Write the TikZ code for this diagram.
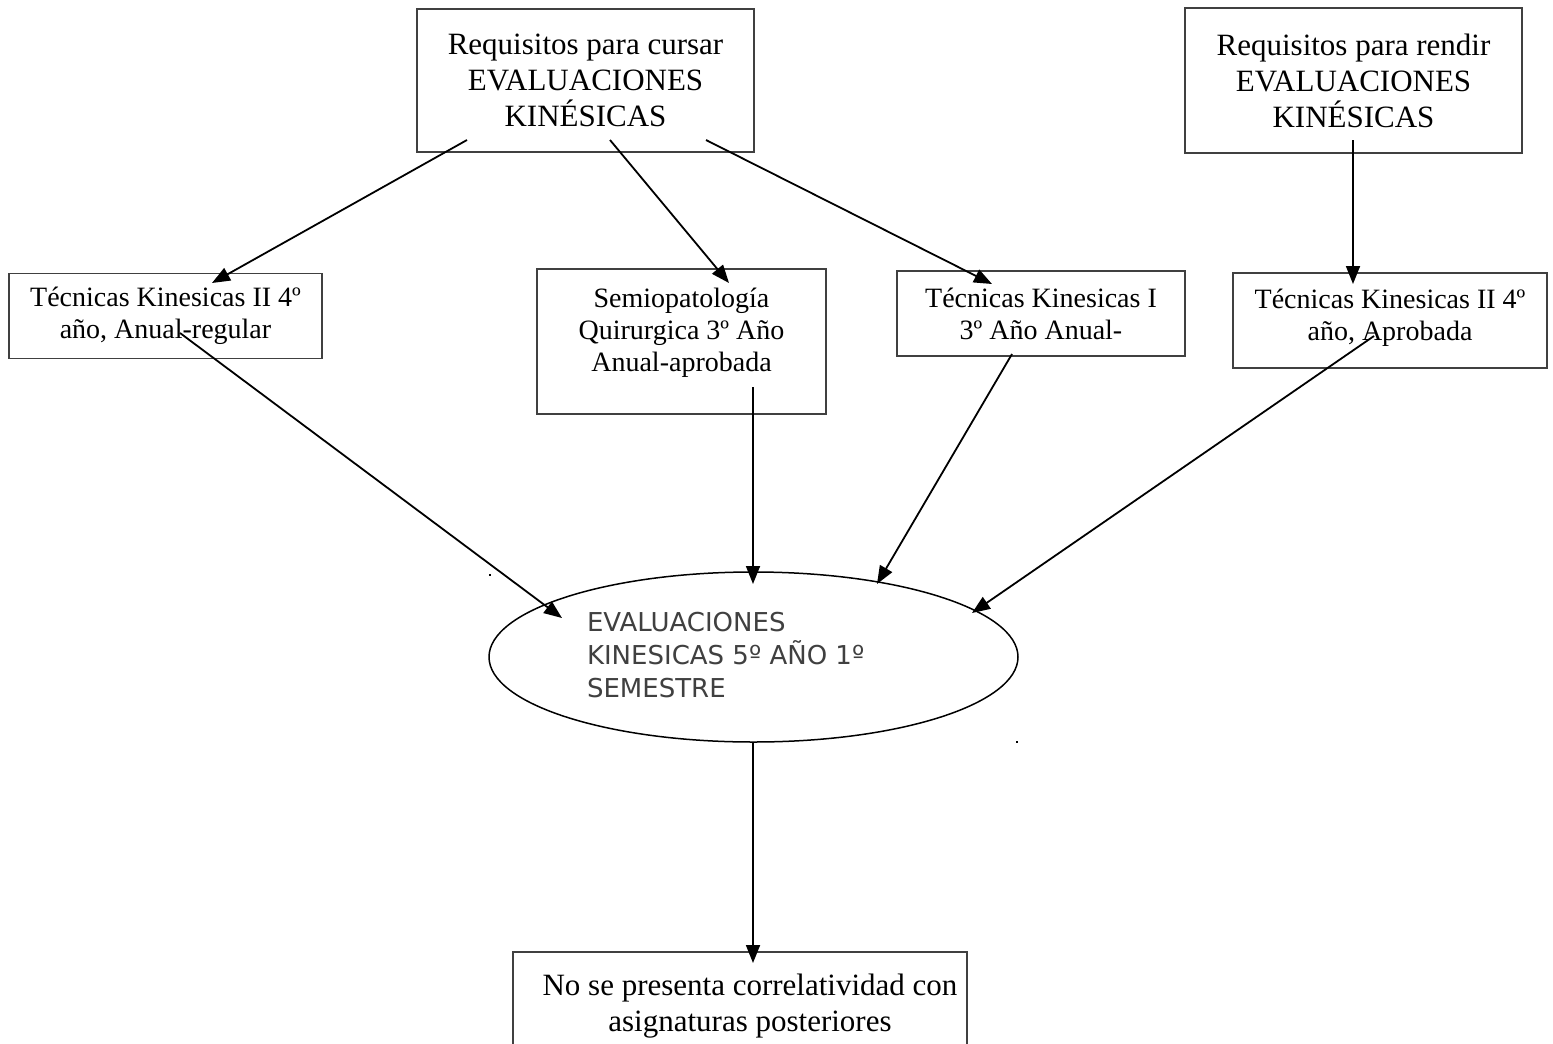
\documentclass[tikz,border=0pt]{standalone}
\usepackage{fontspec}
\setmainfont{Liberation Serif}
\newfontfamily\dejavusans{DejaVu Sans}
\usetikzlibrary{arrows.meta,shapes.geometric}
\definecolor{boxline}{HTML}{404040}
\definecolor{elltext}{HTML}{404040}
\begin{document}
\begin{tikzpicture}[x=1pt,y=-1pt,
  boxnode/.style={draw=boxline, line width=1.5pt, rectangle, inner sep=0pt, align=center},
  bigtext/.style={font=\fontsize{31}{36}\selectfont},
  smalltext/.style={font=\fontsize{28}{32}\selectfont},
  arr/.style={draw=black, line width=1.8pt, -{Triangle[length=18pt,width=14pt]}},
  dotmark/.style={fill=black}
]
\useasboundingbox (0,0) rectangle (1553,1044);
\fill[white] (0,0) rectangle (1553,1044);

% top boxes
\node[boxnode,bigtext,minimum width=337,minimum height=143] (cursar) at (585.5,80.5)
  {Requisitos para cursar\\EVALUACIONES\\KINÉSICAS};
\node[boxnode,bigtext,minimum width=337,minimum height=145] (rendir) at (1353.5,80.5)
  {Requisitos para rendir\\EVALUACIONES\\KINÉSICAS};

% middle row
\node[boxnode,smalltext,minimum width=313,minimum height=85] (tk2a) at (165.5,316)
  {Técnicas Kinesicas II 4º\\año, Anual-regular};
\node[boxnode,smalltext,anchor=north] (semio) at (681.5,268)
  {\begin{minipage}[t][145pt][t]{289pt}\centering\vspace*{19pt}Semiopatología\\Quirurgica 3º Año\\Anual-aprobada\end{minipage}};
\node[boxnode,smalltext,minimum width=288,minimum height=85] (tk1) at (1041,313.5)
  {Técnicas Kinesicas I\\3º Año Anual-};
\node[boxnode,smalltext,anchor=north] (tk2b) at (1390,272)
  {\begin{minipage}[t][95pt][t]{314pt}\centering\vspace*{16pt}Técnicas Kinesicas II 4º\\año, Aprobada\end{minipage}};

% ellipse
\node[draw=black, line width=1.5pt, ellipse, minimum width=529, minimum height=170, inner sep=0pt,
      font=\dejavusans\fontsize{26}{33}\selectfont, text=elltext] (eval) at (753.5,657)
  {\begin{minipage}{333pt}\raggedright\vspace*{-4pt}EVALUACIONES\\KINESICAS 5º AÑO 1º\\SEMESTRE\end{minipage}};

% bottom box
\node[boxnode,bigtext,anchor=north] (none) at (740,951)
  {\begin{minipage}[t][110pt][t]{454pt}\vspace*{22pt}\centering\leftskip=20pt plus 1fil\rightskip=0pt plus 1fil No se presenta correlatividad con\\asignaturas posteriores\end{minipage}};

% connector end points
\coordinate (c1s) at (467,140);  \coordinate (c1e) at (212,283);
\coordinate (c2s) at (610,140);  \coordinate (c2e) at (729,283);
\coordinate (c3s) at (706,140);  \coordinate (c3e) at (992,284);
\coordinate (r1s) at (1353,140); \coordinate (r1e) at (1353,284);
\coordinate (t2s) at (180,333);  \coordinate (t2e) at (562,618);
\coordinate (sms) at (753,387);  \coordinate (sme) at (753,584);
\coordinate (t1s) at (1012,354); \coordinate (t1e) at (877,584);
\coordinate (tbs) at (1374,336); \coordinate (tbe) at (972,613);
\coordinate (evs) at (753,742);  \coordinate (eve) at (753,963);

\draw[arr] (c1s) -- (c1e);
\draw[arr] (c2s) -- (c2e);
\draw[arr] (c3s) -- (c3e);
\draw[arr] (r1s) -- (r1e);
\draw[arr] (t2s) -- (t2e);
\draw[arr] (sms) -- (sme);
\draw[arr] (t1s) -- (t1e);
\draw[arr] (tbs) -- (tbe);
\draw[arr] (evs) -- (eve);

% stray dots
\fill[dotmark] (489,574) rectangle (491,576);
\fill[dotmark] (1016,741) rectangle (1018,743);
\end{tikzpicture}
\end{document}
